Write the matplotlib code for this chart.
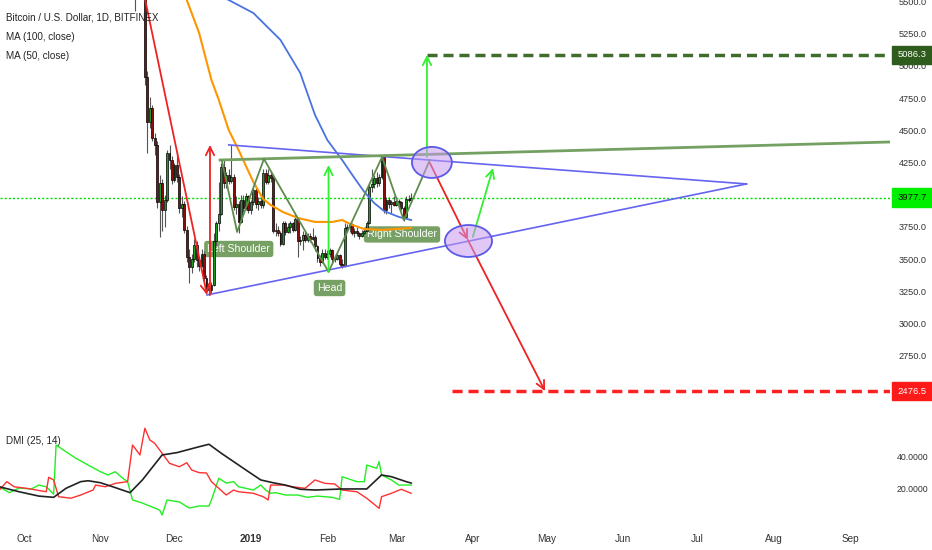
import matplotlib
matplotlib.use('Agg')
import matplotlib.pyplot as plt
import matplotlib.dates as mdates
import matplotlib.transforms as mtransforms
from matplotlib.patches import Ellipse, Rectangle
import numpy as np
import pandas as pd

plt.rcParams['font.family'] = ['Liberation Sans Narrow', 'Liberation Sans', 'DejaVu Sans']

# Velas diarias BTC/USD (Bitfinex)
candle_start = '2018-11-15'
candle_end = '2019-03-07'
opens = [5650, 5600, 5560, 5580, 5620, 4915, 4565, 4674, 4440, 4390, 3944, 4092, 3882, 3960, 4325, 4270,
         4115, 4230, 4140, 3900, 3930, 3730, 3520, 3440, 3500, 3610, 3490, 3450, 3540, 3350, 3280, 3260,
         3300, 3640, 3780, 3850, 4216, 4092, 4150, 4110, 4140, 3905, 3930, 3790, 3960, 3900, 3990,
         3880, 3940, 4040, 3930, 3950, 3920, 4170, 4100, 4150, 4130, 3720, 3730, 3700, 3620, 3780, 3710,
         3750, 3780, 3730, 3810, 3640, 3650, 3690, 3650, 3680, 3660, 3670, 3600, 3510, 3480, 3550,
         3520, 3540, 3570, 3500, 3505, 3530, 3460, 3450, 3740, 3750, 3770, 3700, 3720, 3700, 3680, 3700,
         3720, 3780, 4060, 4080, 4130, 4090, 4140, 4290, 3880, 3960, 3930, 3940,
         3920, 3950, 3940, 3900, 3830, 3970, 3960]
highs = [5700, 5640, 5600, 5680, 5650, 4960, 4760, 4700, 4480, 4420, 4150, 4120, 4000, 4350, 4390, 4300,
         4250, 4330, 4160, 3990, 3950, 3760, 3580, 3540, 3660, 3640, 3520, 3580, 3560, 3380, 3320, 3320,
         3700, 3800, 4100, 4250, 4280, 4180, 4200, 4387, 4160, 3990, 3950, 4000, 4000, 4010, 4000,
         3960, 4060, 4050, 3980, 3990, 4200, 4200, 4200, 4180, 4150, 3780, 3760, 3720, 3800, 3800, 3780,
         3800, 3790, 3850, 3830, 3680, 3720, 3720, 3700, 3700, 3740, 3690, 3610, 3530, 3580, 3580,
         3570, 3590, 3580, 3530, 3550, 3540, 3500, 3780, 3770, 3780, 3780, 3740, 3750, 3710, 3730, 3740,
         3800, 4100, 4200, 4150, 4180, 4160, 4310, 4320, 3980, 3980, 3960, 3990,
         3980, 3970, 3950, 3910, 3990, 4000, 4010]
lows = [5430, 5520, 5530, 5550, 4850, 4325, 4520, 4420, 4310, 3900, 3670, 3720, 3750, 3940, 4200, 4080,
        4100, 4100, 3860, 3830, 3700, 3480, 3315, 3390, 3480, 3440, 3410, 3440, 3330, 3240, 3222, 3240,
        3290, 3600, 3720, 3840, 4050, 4050, 4080, 4090, 3880, 3850, 3703, 3780, 3870, 3880, 3860,
        3850, 3920, 3900, 3880, 3900, 3900, 4080, 4080, 4100, 3700, 3680, 3680, 3600, 3610, 3690, 3700,
        3700, 3710, 3720, 3520, 3610, 3570, 3630, 3630, 3630, 3650, 3560, 3480, 3450, 3470, 3500,
        3500, 3520, 3480, 3480, 3490, 3450, 3430, 3440, 3710, 3710, 3690, 3670, 3680, 3660, 3670, 3690,
        3710, 3770, 4020, 4050, 4060, 4070, 4120, 3860, 3850, 3900, 3860, 3910,
        3910, 3910, 3880, 3800, 3820, 3940, 3950]
closes = [5600, 5560, 5580, 5620, 4915, 4565, 4674, 4440, 4390, 3944, 4092, 3882, 3960, 4325, 4270, 4115,
          4230, 4140, 3900, 3930, 3730, 3520, 3440, 3500, 3610, 3490, 3450, 3540, 3350, 3280, 3260, 3300,
          3640, 3780, 3850, 4216, 4092, 4150, 4110, 4140, 3905, 3930, 3790, 3960, 3900, 3990, 3880,
          3940, 4040, 3930, 3950, 3920, 4170, 4100, 4150, 4130, 3720, 3730, 3700, 3620, 3780, 3710, 3750,
          3780, 3730, 3810, 3640, 3650, 3690, 3650, 3680, 3660, 3670, 3600, 3510, 3480, 3550, 3520,
          3540, 3570, 3500, 3505, 3530, 3460, 3450, 3740, 3750, 3770, 3700, 3720, 3700, 3680, 3700, 3720,
          3780, 4060, 4080, 4130, 4090, 4140, 4290, 3880, 3960, 3930, 3940, 3920,
          3950, 3940, 3900, 3830, 3970, 3960, 3977.7]

# Medias moviles
ma50_dates = ['2018-12-01', '2018-12-06', '2018-12-11', '2018-12-16', '2018-12-19', '2018-12-23', '2018-12-27',
              '2019-01-02', '2019-01-06', '2019-01-09', '2019-01-14', '2019-01-20', '2019-01-27', '2019-02-03',
              '2019-02-07', '2019-02-11', '2019-02-16', '2019-02-23', '2019-03-07']
ma50_vals = [5760, 5512, 5256, 4891, 4736, 4503, 4348, 4099, 3967, 3921, 3866, 3820, 3789, 3789, 3804, 3766,
             3734, 3727, 3742]
ma100_dates = ['2018-12-13', '2018-12-23', '2019-01-02', '2019-01-13', '2019-01-21', '2019-01-27', '2019-02-01',
               '2019-02-07', '2019-02-12', '2019-02-16', '2019-02-20', '2019-02-24', '2019-03-02', '2019-03-07']
ma100_vals = [5620, 5512, 5411, 5202, 4946, 4620, 4425, 4270, 4130, 4022, 3936, 3874, 3828, 3804]

# DMI (25, 14)
adx_dates = ['2018-09-21', '2018-09-29', '2018-10-07', '2018-10-13', '2018-10-18', '2018-10-24', '2018-10-27',
             '2018-11-01', '2018-11-06', '2018-11-13', '2018-11-18', '2018-11-26', '2018-12-02', '2018-12-11',
             '2018-12-15', '2018-12-20', '2018-12-25', '2018-12-30', '2019-01-05', '2019-01-10', '2019-01-15',
             '2019-01-21', '2019-01-27', '2019-02-07', '2019-02-17', '2019-02-23', '2019-02-27', '2019-03-05',
             '2019-03-07']
adx_vals = [20.8, 17.6, 14.8, 14.0, 19.8, 24.1, 24.7, 23.4, 20.8, 17.0, 25.2, 41.3, 42.8, 46.6, 48.2, 42.4,
            37.0, 31.6, 25.2, 23.4, 21.9, 19.2, 18.7, 19.4, 19.4, 28.4, 27.3, 24.1, 23.2]
pdi_dates = ['2018-09-21', '2018-09-25', '2018-09-29', '2018-10-04', '2018-10-07', '2018-10-10', '2018-10-12',
             '2018-10-13', '2018-10-14', '2018-10-18', '2018-10-22', '2018-10-27', '2018-11-01', '2018-11-04',
             '2018-11-07', '2018-11-10', '2018-11-12', '2018-11-14', '2018-11-18', '2018-11-25', '2018-11-26',
             '2018-11-28', '2018-12-03', '2018-12-07', '2018-12-11', '2018-12-15', '2018-12-16', '2018-12-19',
             '2018-12-22', '2018-12-25', '2018-12-27', '2018-12-30', '2019-01-02', '2019-01-05', '2019-01-07',
             '2019-01-09', '2019-01-11', '2019-01-15', '2019-01-20', '2019-01-24', '2019-01-28', '2019-02-03',
             '2019-02-06', '2019-02-07', '2019-02-13', '2019-02-16', '2019-02-17', '2019-02-21', '2019-02-22',
             '2019-02-23', '2019-02-27', '2019-03-02', '2019-03-07']
pdi_vals = [20.8, 17.0, 20.0, 19.4, 21.9, 20.8, 17.6, 16.1, 47.7, 43.4, 39.2, 34.8, 30.5, 28.4, 30.5, 26.3,
            24.1, 12.3, 10.3, 5.8, 2.6, 12.3, 11.0, 7.1, 8.4, 8.4, 12.3, 26.3, 23.2, 24.1, 20.8, 19.8, 18.7,
            21.9, 18.7, 16.6, 17.0, 15.5, 15.5, 14.0, 14.8, 14.0, 12.7, 27.3, 24.1, 24.1, 34.8, 32.7, 37.0,
            28.4, 25.2, 21.9, 21.9]
mdi_dates = ['2018-09-21', '2018-09-24', '2018-09-27', '2018-10-02', '2018-10-06', '2018-10-10', '2018-10-11',
             '2018-10-13', '2018-10-15', '2018-10-20', '2018-10-24', '2018-10-29', '2018-10-30', '2018-11-03',
             '2018-11-07', '2018-11-12', '2018-11-14', '2018-11-17', '2018-11-19', '2018-11-21', '2018-11-23',
             '2018-11-26', '2018-11-29', '2018-12-03', '2018-12-06', '2018-12-08', '2018-12-11', '2018-12-14',
             '2018-12-16', '2018-12-19', '2018-12-22', '2018-12-25', '2018-12-27', '2019-01-02', '2019-01-06',
             '2019-01-08', '2019-01-09', '2019-01-14', '2019-01-18', '2019-01-23', '2019-01-27', '2019-01-31',
             '2019-02-04', '2019-02-07', '2019-02-13', '2019-02-17', '2019-02-22', '2019-02-23', '2019-02-27',
             '2019-03-03', '2019-03-07']
mdi_vals = [18.7, 24.1, 20.8, 19.8, 18.7, 17.6, 26.9, 25.2, 14.4, 13.4, 15.5, 18.7, 21.9, 20.8, 23.0, 24.1,
            47.7, 41.3, 58.5, 51.0, 48.8, 42.4, 35.9, 33.7, 36.3, 31.6, 29.9, 29.7, 24.1, 19.8, 15.5, 18.7,
            17.6, 16.6, 14.4, 12.3, 21.9, 21.9, 20.8, 19.8, 25.2, 23.0, 22.6, 18.7, 17.6, 13.4, 6.9, 14.4,
            16.6, 19.2, 16.6]

# Dibujos (fecha, precio)
hs_dates = ['2018-12-20 07:00', '2018-12-26 10:00', '2019-01-06 07:00', '2019-02-01 12:00',
            '2019-02-23 05:00', '2019-03-04 00:00', '2019-03-14 14:00']
hs_prices = [4262, 3711, 4278, 3401, 4293, 3804, 4270]
neckline = [('2018-12-19 12:00', 4270), ('2019-09-17 12:00', 4410)]
tri_upper = [('2018-12-23 00:00', 4387), ('2019-07-21 00:00', 4084)]
tri_lower = [('2018-12-14 05:00', 3222), ('2019-07-21 00:00', 4084)]
red_arrows = [(('2018-11-16 00:00', 5800), ('2018-12-14 05:00', 3222)),
              (('2018-12-15 10:00', 3222), ('2018-12-15 10:00', 4387)),
              (('2019-03-14 14:00', 4247), ('2019-03-30 00:00', 3649)),
              (('2019-03-30 00:00', 3649), ('2019-04-30 07:00', 2476.5))]
green_arrows = [(('2019-02-01 12:00', 3401), ('2019-02-01 12:00', 4231)),
                (('2019-03-13 10:00', 4293), ('2019-03-13 10:00', 5086.3)),
                (('2019-04-01 00:00', 3672), ('2019-04-09 05:00', 4208))]
ellipses = [('2019-03-15 10:00', 4251, 16.2, 241), ('2019-03-30 06:00', 3641, 19.1, 248)]
target_up = ('2019-03-13 10:00', 5086.3)
target_down = ('2019-03-23 14:00', 2476.5)
last_price = 3977.7
pattern_labels = [('2018-12-27 02:00', 3579, 'Left Shoulder'),
                  ('2019-02-01 22:00', 3276, 'Head'),
                  ('2019-03-03 07:00', 3692, 'Right Shoulder')]

price_ticks = [2500, 2750, 3000, 3250, 3500, 3750, 4000, 4250, 4500, 4750, 5000, 5250, 5500]
hidden_ticks = [2500, 4000]  # tapados por las etiquetas de precio
month_starts = ['2018-10-01', '2018-11-01', '2018-12-01', '2019-01-01', '2019-02-01', '2019-03-01',
                '2019-04-01', '2019-05-01', '2019-06-01', '2019-07-01', '2019-08-01', '2019-09-01']
month_labels = ['Oct', 'Nov', 'Dec', '2019', 'Feb', 'Mar', 'Apr', 'May', 'Jun', 'Jul', 'Aug', 'Sep']


def xd(s):
    return mdates.date2num(pd.to_datetime(s))


W, H = 932, 550
fig = plt.figure(figsize=(W / 100, H / 100), dpi=100)


def px_axes(x0, y0, x1, y1, **kw):
    return fig.add_axes([x0 / W, 1 - y1 / H, (x1 - x0) / W, (y1 - y0) / H], **kw)


ax = px_axes(0, 0, 890, 414)
ax_dmi = px_axes(0, 414, 890, 522)
x_left, x_right = xd('2018-09-21 06:00'), xd('2019-09-17 05:00')
for a in (ax, ax_dmi):
    a.set_xlim(x_left, x_right)
    for sp in a.spines.values():
        sp.set_visible(False)
    a.yaxis.tick_right()
    a.tick_params(axis='y', length=0, pad=6, labelsize=6.6, labelcolor='#333333')
ax.set_ylim(2298, 5512)
ax_dmi.set_ylim(-1.9, 67.7)

# velas
cd = mdates.date2num(pd.date_range(candle_start, candle_end, freq='D'))
o = np.array(opens, float)
c = np.array(closes, float)
body_col = np.where(c >= o, '#1f9a1f', '#8a0d0d')
ax.vlines(cd, lows, highs, color='#555555', lw=0.8, zorder=3)
ax.bar(cd, np.maximum(np.abs(c - o), 5), bottom=np.minimum(o, c), width=0.75,
       color=body_col, edgecolor='black', linewidth=0.5, zorder=3)

# medias moviles
ax.plot([xd(d) for d in ma100_dates], ma100_vals, color='#4a72e0', lw=1.3, zorder=4)
ax.plot([xd(d) for d in ma50_dates], ma50_vals, color='#ff9500', lw=1.5, zorder=4)

# ultimo precio
ax.axhline(last_price, color='#00dd00', lw=1, ls=(0, (1.5, 1.5)), zorder=2)

# triangulo y neckline
for seg in (tri_upper, tri_lower):
    ax.plot([xd(p[0]) for p in seg], [p[1] for p in seg], color='#6464f0', lw=1.2, zorder=5)
ax.plot([xd(p[0]) for p in neckline], [p[1] for p in neckline], color='#74a062', lw=2.0, zorder=5)
ax.plot([xd(d) for d in hs_dates], hs_prices, color='#5e8c4e', lw=1.3, zorder=5)

# objetivos
ax.hlines(target_up[1], xd(target_up[0]), x_right, color='#3f6e2c', lw=2.5, linestyles=(0, (2.9, 1.7)), zorder=5)
ax.hlines(target_down[1], xd(target_down[0]), x_right, color='#ff2020', lw=2.5, linestyles=(0, (2.9, 1.7)), zorder=5)


# flechas
def arrow(p0, p1, color):
    ax.annotate('', xy=(xd(p1[0]), p1[1]), xytext=(xd(p0[0]), p0[1]),
                arrowprops=dict(arrowstyle='->,head_length=0.6,head_width=0.3', color=color,
                                lw=1.3, shrinkA=0, shrinkB=0), zorder=6, annotation_clip=False)


for p0, p1 in red_arrows:
    arrow(p0, p1, '#ee2222')
for p0, p1 in green_arrows:
    arrow(p0, p1, '#33ee33')

for d, p, w, h in ellipses:
    ax.add_patch(Ellipse((xd(d), p), w, h, facecolor='#c89af0', alpha=0.55, edgecolor='none', zorder=6))
    ax.add_patch(Ellipse((xd(d), p), w, h, facecolor='none', edgecolor='#5a5ae6', lw=1.3, zorder=6))

for d, p, txt in pattern_labels:
    ax.text(xd(d), p, txt, ha='center', va='center', color='white', fontsize=7.6, zorder=2.8,
            bbox=dict(boxstyle='round,pad=0.3,rounding_size=0.3', fc='#76a064', ec='none'))

# DMI
ax_dmi.plot([xd(d) for d in pdi_dates], pdi_vals, color='#22ee22', lw=1.0)
ax_dmi.plot([xd(d) for d in mdi_dates], mdi_vals, color='#ff3030', lw=1.0)
ax_dmi.plot([xd(d) for d in adx_dates], adx_vals, color='#222222', lw=1.2)

# ejes
ax.set_yticks(price_ticks)
ax.set_yticklabels(['' if v in hidden_ticks else f'{v:.1f}' for v in price_ticks])
ax.tick_params(axis='x', bottom=False, labelbottom=False)
ax_dmi.set_yticks([20, 40])
ax_dmi.set_yticklabels(['20.0000', '40.0000'])
ax_dmi.tick_params(axis='y', labelsize=6.3, pad=5)
ax_dmi.set_xticks([xd(m) for m in month_starts])
ax_dmi.set_xticklabels(month_labels)
ax_dmi.tick_params(axis='x', length=0, pad=9, labelsize=7.2, labelcolor='#333333')
for lbl in ax_dmi.get_xticklabels():
    if lbl.get_text() == '2019':
        lbl.set_fontweight('bold')

# etiquetas de precio en el eje
blend = mtransforms.blended_transform_factory(fig.transFigure, ax.transData)
for val, fc, tc in [(target_up[1], '#2e5c1c', 'white'), (last_price, '#00ee00', '#111111'),
                    (target_down[1], '#ff1a1a', 'white')]:
    ax.add_patch(Rectangle((892 / W, val - 72), 40 / W, 144, transform=blend, facecolor=fc,
                           edgecolor=fc, clip_on=False, zorder=10))
    ax.text(912 / W, val, f'{val:.1f}', transform=blend, ha='center', va='center', color=tc,
            fontsize=6.8, zorder=11, clip_on=False)

# leyenda
fig.text(6 / W, 1 - 18 / H, 'Bitcoin / U.S. Dollar, 1D, BITFINEX', fontsize=7.1, color='#222222', va='center')
fig.text(6 / W, 1 - 37 / H, 'MA (100, close)', fontsize=7.1, color='#222222', va='center')
fig.text(6 / W, 1 - 56 / H, 'MA (50, close)', fontsize=7.1, color='#222222', va='center')
fig.text(6 / W, 1 - 441 / H, 'DMI (25, 14)', fontsize=7.1, color='#222222', va='center')

plt.savefig('out.png', dpi=100)
